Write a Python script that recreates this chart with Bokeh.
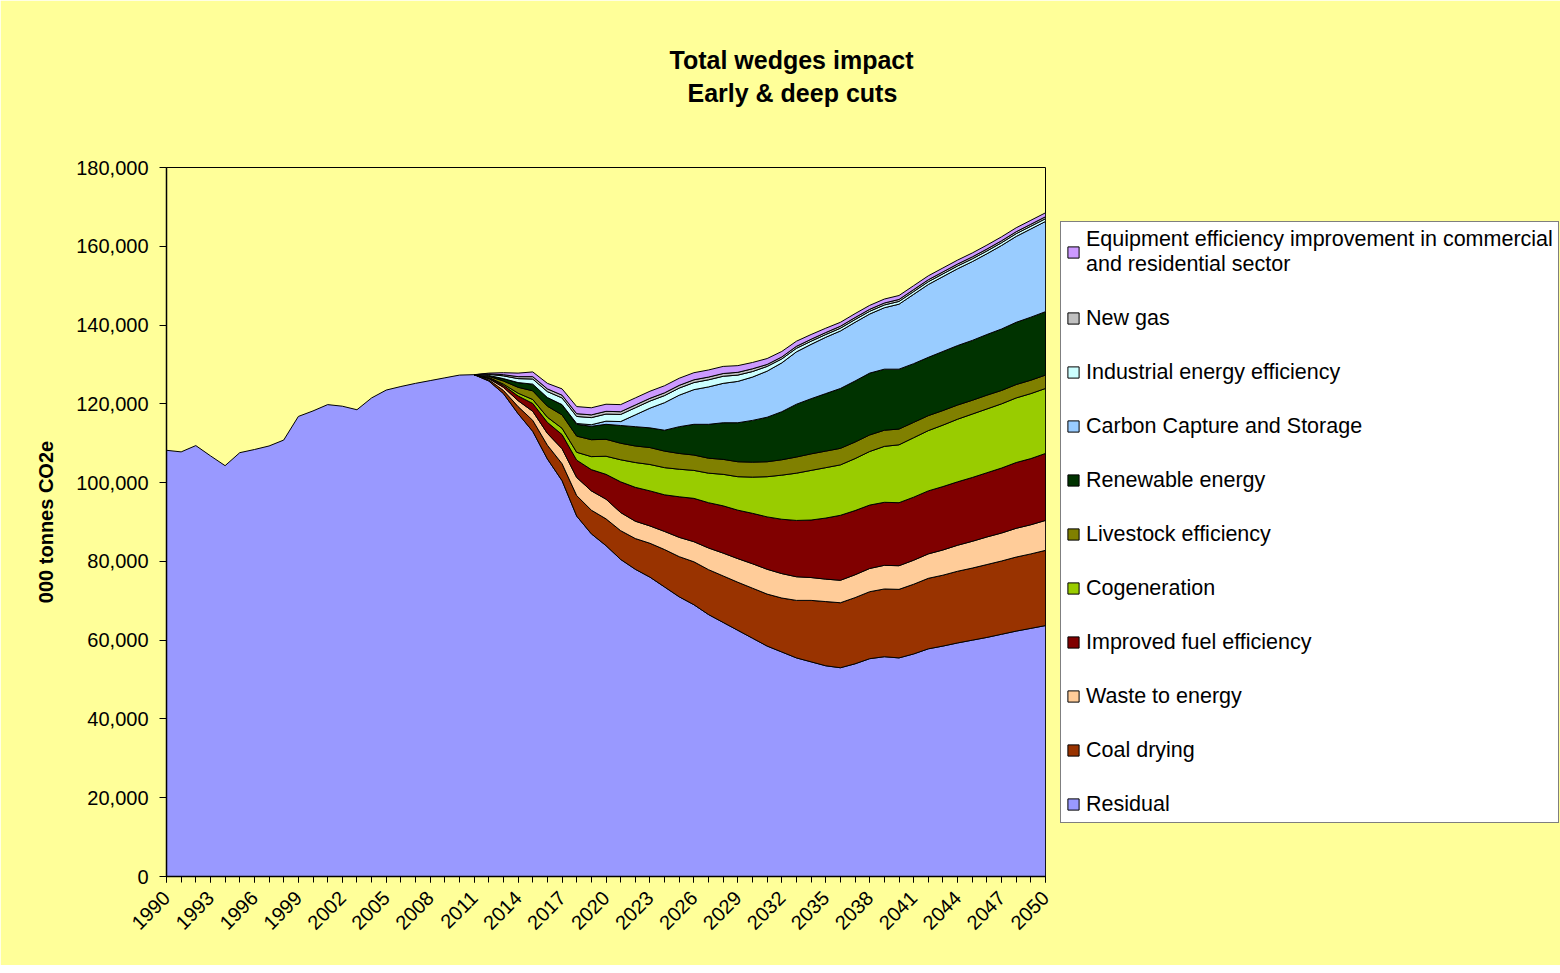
import math
from bokeh.plotting import figure
from bokeh.models import Legend, LegendItem, FixedTicker, NumeralTickFormatter, Title
from bokeh.embed import file_html
from bokeh.resources import INLINE

# ---------------- data ----------------
YEARS = list(range(1990, 2051))
WEDGE_YEARS = list(range(2011, 2051))

# Residual emissions (000 tonnes CO2e), 1990-2050
RESIDUAL = [108200, 107800, 109400, 106800, 104300, 107600, 108400, 109300, 110800, 116800,
            118200, 119800, 119400, 118500, 121500, 123500, 124400, 125200, 125900, 126600,
            127300,
            127400, 125800, 122600, 117500, 113000, 106000, 100500, 91500, 87000, 84000,
            80500, 78000, 76000, 73500, 71000, 69000, 66500, 64500, 62500, 60500,
            58500, 57000, 55500, 54500, 53500, 53000, 54000, 55300, 55800, 55500,
            56500, 57800, 58500, 59300, 60000, 60700, 61500, 62300, 63000, 63700]

# Wedges, 2011-2050
COAL_DRYING = [0, 300, 800, 1800, 2800, 3500, 4300, 5200, 6000, 6800,
               7300, 7800, 8600, 9500, 10200, 10900, 11400, 11800, 12200, 12700,
               13200, 13700, 14600, 15600, 16300, 16500, 16800, 17000, 17200, 17400,
               17700, 17900, 18000, 18200, 18300, 18500, 18600, 18800, 18900, 19100]
WASTE_TO_ENERGY = [0, 300, 800, 1500, 2300, 3000, 3800, 4600, 4900, 5000,
                   4600, 4400, 4400, 4600, 4900, 5100, 5500, 5800, 6000, 6200,
                   6300, 6200, 6000, 5800, 5700, 5700, 5800, 5900, 6000, 6000,
                   6100, 6200, 6400, 6600, 6800, 7000, 7100, 7300, 7400, 7600]
FUEL_EFFICIENCY = [0, 200, 500, 1200, 2000, 2800, 3600, 4400, 5400, 6300,
                   7800, 8600, 8900, 9300, 10300, 11000, 11500, 12000, 12300, 12800,
                   13300, 13800, 14300, 14600, 15500, 16500, 16300, 16100, 16000, 16000,
                   16000, 16000, 16100, 16100, 16200, 16300, 16500, 16700, 16800, 17000]
COGENERATION = [0, 100, 300, 700, 1000, 1300, 1600, 2000, 3300, 4600,
                5600, 6300, 6700, 6900, 7000, 7100, 7500, 8000, 8500, 9200,
                10200, 11200, 12000, 12600, 12800, 12800, 13200, 13600, 14200, 14700,
                15100, 15300, 15600, 15900, 16100, 16200, 16300, 16400, 16500, 16500]
LIVESTOCK = [0, 300, 800, 1500, 2200, 2800, 3400, 4100, 4300, 4300,
             4200, 4200, 4300, 4200, 4000, 3900, 3800, 3800, 3800, 3800,
             3800, 3900, 4100, 4200, 4200, 4200, 4200, 4200, 4100, 4000,
             3900, 3800, 3700, 3600, 3500, 3500, 3400, 3400, 3400, 3400]
RENEWABLE = [0, 200, 600, 1200, 1700, 2200, 2600, 3000, 3400, 3800,
             4500, 4900, 5000, 5300, 6800, 7800, 8600, 9300, 9900, 10600,
             11300, 12200, 13400, 14000, 14600, 15200, 15500, 15700, 15500, 15200,
             14900, 14800, 15000, 15100, 15200, 15400, 15600, 15800, 16000, 16100]
CCS = [0, 0, 0, 0, 0, 0, 0, 200, 400, 800,
       1000, 3000, 5000, 7000, 8000, 8800, 9500, 10000, 10500, 11000,
       11700, 12400, 13300, 13800, 14300, 14600, 14900, 15000, 15600, 16500,
       17600, 18500, 19000, 19500, 20000, 20500, 21200, 21800, 22400, 22900]
INDUSTRIAL = [0, 300, 700, 1000, 1300, 1500, 1700, 1800, 1800, 1800,
              1800, 1800, 1800, 1800, 1800, 1800, 1800, 1800, 1600, 1400,
              1200, 1000, 900, 800, 700, 700, 700, 700, 700, 700,
              700, 700, 700, 700, 700, 700, 700, 700, 700, 700]
NEW_GAS = [0, 100, 300, 500, 600, 700, 700, 700, 700, 700,
           700, 700, 700, 700, 700, 700, 700, 700, 700, 700,
           500, 500, 500, 500, 500, 500, 500, 500, 500, 500,
           500, 500, 500, 500, 500, 500, 500, 500, 500, 500]
EQUIPMENT = [0, 200, 500, 900, 1200, 1400, 1600, 1800, 1800, 1800,
             1800, 1800, 1800, 1800, 1800, 1800, 1800, 1800, 1700, 1600,
             1500, 1400, 1300, 1200, 1100, 1000, 1000, 1000, 1000, 1000,
             1000, 1000, 1000, 1000, 1000, 1000, 1000, 1000, 1000, 1000]

SERIES_NAMES = ["Coal drying", "Waste to energy", "Improved fuel efficiency", "Cogeneration",
                "Livestock efficiency", "Renewable energy", "Carbon Capture and Storage",
                "Industrial energy efficiency", "New gas",
                "Equipment efficiency improvement in commercial\nand residential sector"]
SERIES_VALUES = [COAL_DRYING, WASTE_TO_ENERGY, FUEL_EFFICIENCY, COGENERATION, LIVESTOCK,
                 RENEWABLE, CCS, INDUSTRIAL, NEW_GAS, EQUIPMENT]
SERIES_COLORS = ["#993300", "#FFCC99", "#800000", "#99CC00", "#808000",
                 "#003300", "#99CCFF", "#CCFFFF", "#C0C0C0", "#CC99FF"]
RESIDUAL_COLOR = "#9999FF"
TITLE_MAIN = "Total wedges impact"
TITLE_SUB = "Early & deep cuts"
BG = "#FFFF99"
FONT = "Liberation Sans"

X_TICKS = YEARS[::3]
Y_TICKS = list(range(0, 180001, 20000))

# ---------------- main figure ----------------
p = figure(frame_width=879, frame_height=709, x_range=(1990, 2050), y_range=(0, 180000),
           output_backend="svg", toolbar_location=None,
           min_border_left=166, min_border_right=0, min_border_top=167,
           min_border_bottom=89,
           background_fill_color=BG, border_fill_color=BG)
p.title.text = ""
p.xgrid.visible = False
p.ygrid.visible = False
p.outline_line_color = "black"
p.outline_line_width = 1

# titles: a thin spacer next to the frame, then the two title lines
spacer = Title(text=" ", text_font=FONT, text_font_size="1px", text_color=BG, standoff=58)
sub = Title(text=TITLE_SUB, align="left", offset=521, text_font=FONT, standoff=0,
            text_font_size="25px", text_font_style="bold", text_color="black")
main = Title(text=TITLE_MAIN, align="left", offset=503, text_font=FONT, standoff=6,
             text_font_size="25px", text_font_style="bold", text_color="black")
p.add_layout(spacer, "above")
p.add_layout(sub, "above")
p.add_layout(main, "above")

renderers = []
res_xs = YEARS + YEARS[::-1]
res_ys = RESIDUAL + [0] * len(YEARS)
r = p.patch(res_xs, res_ys, fill_color=RESIDUAL_COLOR, line_color="black", line_width=1,
            line_join="round")
renderers.append(("Residual", r))

offset = len(YEARS) - len(WEDGE_YEARS)
lower = RESIDUAL[offset:]
for name, vals, col in zip(SERIES_NAMES, SERIES_VALUES, SERIES_COLORS):
    upper = [a + b for a, b in zip(lower, vals)]
    xs = WEDGE_YEARS + WEDGE_YEARS[::-1]
    ys = upper + lower[::-1]
    r = p.patch(xs, ys, fill_color=col, line_color="black", line_width=1, line_join="round")
    renderers.append((name, r))
    lower = upper

# ---------------- axes ----------------
xa = p.xaxis[0]
xa.ticker = FixedTicker(ticks=X_TICKS, minor_ticks=YEARS)
xa.major_label_orientation = math.pi / 4
xa.major_label_text_font = FONT
xa.major_label_text_font_size = "20px"
xa.major_label_text_color = "black"
xa.major_tick_in = 0
xa.major_tick_out = 6
xa.minor_tick_in = 0
xa.minor_tick_out = 6
xa.major_tick_line_color = "black"
xa.minor_tick_line_color = "black"
xa.axis_line_color = "black"
xa.axis_line_width = 1.5
xa.major_label_standoff = 12

ya = p.yaxis[0]
ya.ticker = FixedTicker(ticks=Y_TICKS)
ya.formatter = NumeralTickFormatter(format="0,0")
ya.major_label_text_font = FONT
ya.major_label_text_font_size = "20px"
ya.major_label_text_color = "black"
ya.major_tick_in = 0
ya.major_tick_out = 7
ya.minor_tick_line_color = None
ya.major_tick_line_color = "black"
ya.axis_line_color = "black"
ya.axis_line_width = 1.5
ya.major_label_standoff = 11
ya.axis_label = "000 tonnes CO2e"
ya.axis_label_text_font = FONT
ya.axis_label_text_font_size = "20px"
ya.axis_label_text_font_style = "bold"
ya.axis_label_text_color = "black"
ya.axis_label_standoff = 16

# ---------------- legend ----------------
items = [LegendItem(label=name, renderers=[rend]) for name, rend in renderers[::-1]]
legend = Legend(items=items, location="center_left", orientation="vertical")
legend.label_text_font = FONT
legend.label_text_font_size = "21.5px"
legend.label_text_color = "black"
legend.glyph_width = 14
legend.glyph_height = 14
legend.label_standoff = 6
legend.label_height = 24
legend.spacing = 29
legend.padding = 5
legend.margin = 15
legend.border_line_color = "black"
legend.border_line_width = 1.5
legend.background_fill_color = "white"
legend.background_fill_alpha = 1.0
p.add_layout(legend, "right")

open("out.html", "w").write(file_html(p, INLINE))
